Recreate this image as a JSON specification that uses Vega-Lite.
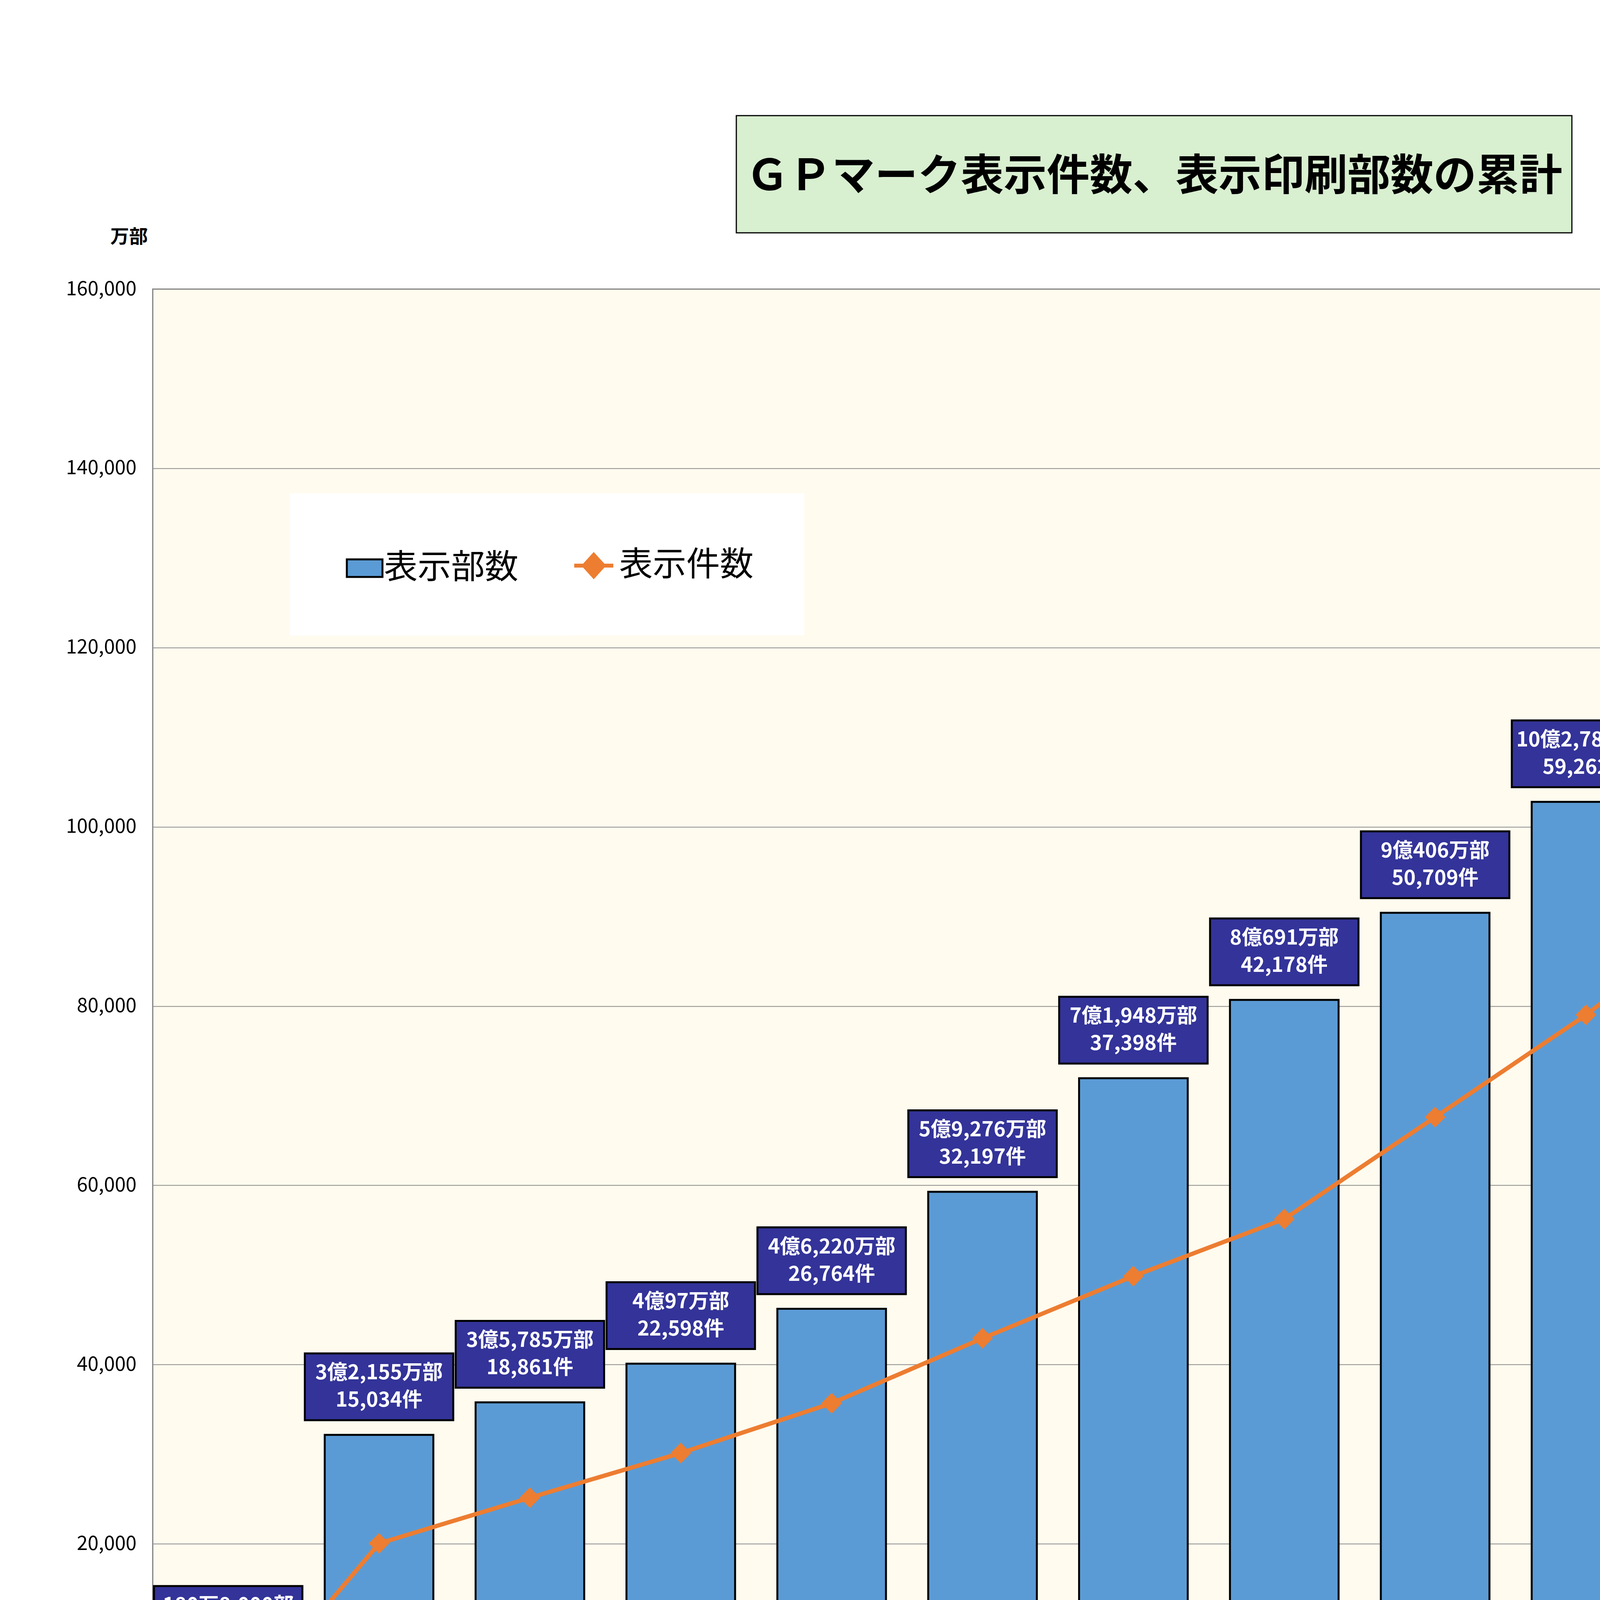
{
  "$schema": "https://vega.github.io/schema/vega-lite/v6.json",
  "autosize": {"type": "none"},
  "padding": {"left": 391, "top": 740, "right": 535, "bottom": 248},
  "width": 5021,
  "height": 3671,
  "background": "white",
  "title": {
    "text": "ＧＰマーク表示件数、表示印刷部数の累計",
    "anchor": "middle",
    "frame": "group",
    "font": "Noto Sans CJK JP",
    "fontSize": 110,
    "fontWeight": "bold",
    "color": "black",
    "baseline": "middle",
    "offset": 0,
    "dx": 53,
    "dy": 268
  },
  "data": {
    "values": [
      {"year": "2006年実績", "parts": 180.8, "ken": 0.072, "label": "180万8,000部\n72件"},
      {"year": "2014年実績", "parts": 32155, "ken": 15.034, "label": "3億2,155万部\n15,034件"},
      {"year": "2015年実績", "parts": 35785, "ken": 18.861, "label": "3億5,785万部\n18,861件"},
      {"year": "2016年実績", "parts": 40097, "ken": 22.598, "label": "4億97万部\n22,598件"},
      {"year": "2017年実績", "parts": 46220, "ken": 26.764, "label": "4億6,220万部\n26,764件"},
      {"year": "2018年実績", "parts": 59276, "ken": 32.197, "label": "5億9,276万部\n32,197件"},
      {"year": "2019年実績", "parts": 71948, "ken": 37.398, "label": "7億1,948万部\n37,398件"},
      {"year": "2020年実績", "parts": 80691, "ken": 42.178, "label": "8億691万部\n42,178件"},
      {"year": "2021年実績", "parts": 90406, "ken": 50.709, "label": "9億406万部\n50,709件"},
      {"year": "2022年実績", "parts": 102782, "ken": 59.262, "label": "10億2,782万部\n59,262件"},
      {"year": "2023年実績", "parts": 115009, "ken": 69.045, "label": "11億5,009万部\n69,045件"},
      {"year": "2024年実績", "parts": 131102, "ken": 80.345, "label": "13億1,102万部\n80,345件"},
      {"year": "2025年実績", "parts": 148112, "ken": 90.969, "label": "14億8,112万部\n90,969件"}
    ]
  },
  "encoding": {
    "x": {
      "field": "year",
      "type": "nominal",
      "sort": null,
      "title": null,
      "scale": {"paddingInner": 0.28, "paddingOuter": 0.14},
      "axis": {
        "labelAngle": 0,
        "labelFontSize": 52,
        "labelPadding": 50,
        "domain": false,
        "ticks": false
      }
    }
  },
  "layer": [
    {
      "encoding": {
        "y": {
          "field": "parts",
          "type": "quantitative",
          "title": "万部",
          "scale": {"domain": [0, 160000], "nice": false},
          "axis": {
            "values": [0, 20000, 40000, 60000, 80000, 100000, 120000, 140000, 160000],
            "format": ",d",
            "grid": true,
            "gridColor": "#8c8c8c",
            "gridWidth": 2,
            "domain": false,
            "ticks": false,
            "labelFontSize": 50,
            "labelPadding": 42,
            "titleAngle": 0,
            "titleX": -61,
            "titleY": -133,
            "titleAlign": "center",
            "titleBaseline": "middle",
            "titleFontSize": 48,
            "titleFontWeight": "bold"
          }
        }
      },
      "layer": [
        {
          "mark": {"type": "bar", "stroke": "black", "strokeWidth": 5},
          "encoding": {
            "fill": {
              "datum": "表示部数",
              "type": "nominal",
              "scale": {"domain": ["表示部数"], "range": ["#5B9BD5"]},
              "legend": {
                "title": null,
                "orient": "none",
                "legendX": 351,
                "legendY": 523,
                "direction": "horizontal",
                "fillColor": "white",
                "strokeColor": null,
                "padding": 129,
                "symbolType": "M-0.76,-0.375H0.76V0.375H-0.76Z",
                "symbolSize": 14400,
                "symbolStrokeColor": "black",
                "symbolStrokeWidth": 5,
                "symbolOpacity": 1,
                "labelFontSize": 86,
                "labelFont": "Noto Sans CJK JP",
                "labelOffset": -13,
                "labelLimit": 1000
              }
            }
          }
        },
        {
          "mark": {
            "type": "point",
            "shape": "M-1,-0.45H1V0.45H-1Z",
            "filled": true,
            "fill": "#333399",
            "stroke": "black",
            "strokeWidth": 5,
            "size": 144400,
            "opacity": 1,
            "yOffset": {"expr": "datum.parts < 1000 ? -261 : datum.parts > 140000 ? 191 : datum.parts > 125000 ? 140 : -123"}
          }
        },
        {
          "mark": {
            "type": "text",
            "font": "Noto Sans CJK JP",
            "fontSize": 52,
            "fontWeight": "bold",
            "fill": "white",
            "strokeWidth": 0,
            "align": "center",
            "baseline": "middle",
            "lineBreak": "\n",
            "lineHeight": 70,
            "dy": -35,
            "yOffset": {"expr": "datum.parts < 1000 ? -261 : datum.parts > 140000 ? 191 : datum.parts > 125000 ? 140 : -123"}
          },
          "encoding": {
            "text": {"field": "label", "type": "nominal"},
            "stroke": {
              "datum": 1,
              "type": "quantitative",
              "scale": {"domain": [0, 1], "range": ["#D8EFD0", "#D8EFD0"]},
              "legend": {
                "title": null,
                "labelExpr": "''",
                "labelOpacity": 0,
                "orient": "none",
                "legendX": 1494,
                "legendY": -444,
                "direction": "horizontal",
                "padding": 0,
                "gradientLength": 2139,
                "gradientThickness": 300,
                "gradientStrokeColor": "black",
                "gradientStrokeWidth": 3
              }
            }
          }
        }
      ]
    },
    {
      "encoding": {
        "y": {
          "field": "ken",
          "type": "quantitative",
          "title": "千件",
          "scale": {"domain": [0, 120], "nice": false},
          "axis": {
            "orient": "right",
            "values": [0, 20, 40, 60, 80, 100, 120],
            "grid": false,
            "domain": false,
            "ticks": false,
            "labelFontSize": 52,
            "labelPadding": 55,
            "titleAngle": 0,
            "titleX": 61,
            "titleY": -140,
            "titleAlign": "center",
            "titleBaseline": "middle",
            "titleFontSize": 48,
            "titleFontWeight": "bold"
          }
        }
      },
      "layer": [
        {"mark": {"type": "line", "stroke": "#ED7D31", "strokeWidth": 11}},
        {
          "mark": {"type": "point", "shape": "diamond", "filled": true, "size": 2800, "opacity": 1},
          "encoding": {
            "color": {
              "datum": "表示件数",
              "type": "nominal",
              "scale": {"domain": ["表示件数"], "range": ["#ED7D31"]},
              "legend": {
                "title": null,
                "orient": "none",
                "legendX": 944,
                "legendY": 523,
                "direction": "horizontal",
                "fillColor": "white",
                "strokeColor": null,
                "padding": 130,
                "symbolType": "M-1,0H1M0,-0.55L0.5,0L0,0.55L-0.5,0Z",
                "symbolSize": 10000,
                "symbolStrokeColor": "#ED7D31",
                "symbolStrokeWidth": 10,
                "symbolOpacity": 1,
                "labelFontSize": 86,
                "labelFont": "Noto Sans CJK JP",
                "labelOffset": 10,
                "labelLimit": 1000
              }
            }
          }
        }
      ]
    }
  ],
  "resolve": {"scale": {"y": "independent"}},
  "config": {
    "font": "Noto Sans CJK JP",
    "view": {"fill": "#FFFBEF", "stroke": "#808080", "strokeWidth": 3},
    "axis": {"labelColor": "black", "titleColor": "black", "labelFont": "Noto Sans CJK JP", "titleFont": "Noto Sans CJK JP", "labelLimit": 1000},
    "legend": {"labelColor": "black"}
  }
}
